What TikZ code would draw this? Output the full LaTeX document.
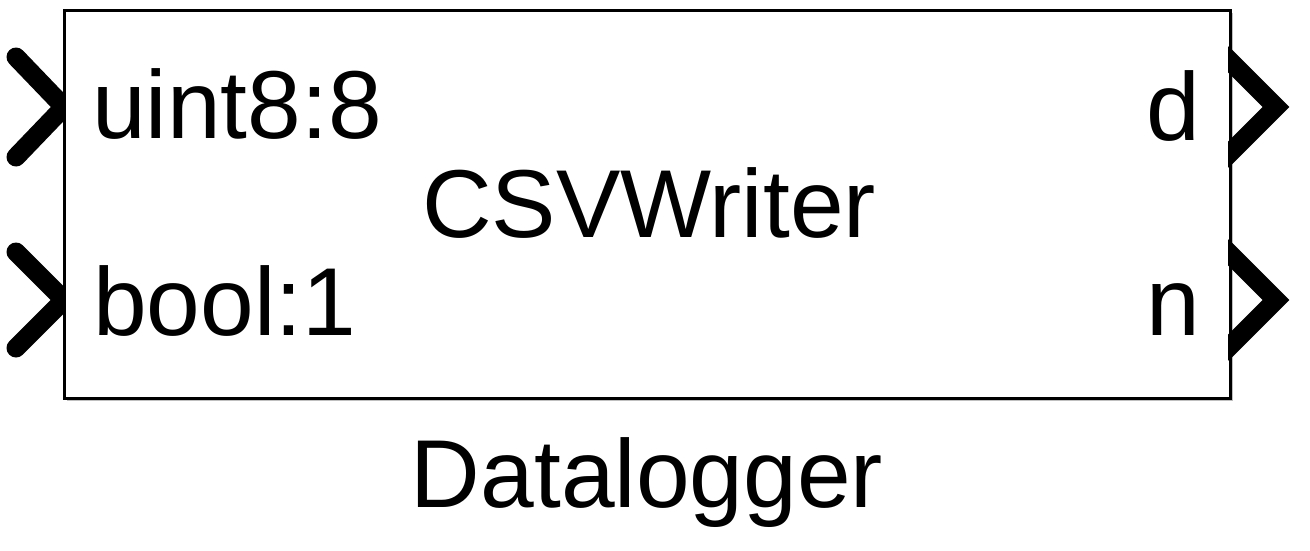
\documentclass[tikz,border=0pt]{standalone}
\usepackage{fontspec}
\setmainfont{Liberation Sans}
\begin{document}
\begin{tikzpicture}[x=1pt,y=-1pt,
  lbl/.style={inner sep=0pt,font=\fontsize{96.5}{110}\selectfont},
  port/.style={line width=19pt,black},
  blockbox/.style={draw=black,line width=3pt,fill=white,inner sep=0pt}]
\useasboundingbox (0,0) rectangle (1310,550);
% shadow
\fill[black!25] (67,13) rectangle (1233,401);
\fill[black!15] (66,12) rectangle (1232,400);
\node[blockbox,minimum width=1166pt,minimum height=388pt,anchor=north west] (blk) at (63,9) {};
% input ports
\begin{scope}
\clip (0,0) rectangle (63,550);
\draw[port,line cap=round,line join=miter] (16,57) -- (64,107) -- (16,157);
\draw[port,line cap=round,line join=miter] (16,252) -- (64,300) -- (16,348);
\end{scope}
% output ports
\begin{scope}
\clip (1228,0) rectangle (1310,550);
\draw[port,line join=miter] (1222,53) -- (1276,107) -- (1222,161);
\draw[port,line join=miter] (1222,246) -- (1276,300) -- (1222,354);
\end{scope}
% labels
\node[lbl,anchor=base west] (in1) at (92,138) {uint8:8};
\node[lbl,anchor=base west] (in2) at (93,335) {bool:1};
\node[lbl,anchor=base east] (out1) at (1200,140) {d};
\node[lbl,anchor=base east] (out2) at (1200,335) {n};
\node[lbl,anchor=base] (title) at (649,237) {CSVWriter};
\node[lbl,anchor=base] (name) at (647,507) {Datalogger};
\end{tikzpicture}
\end{document}
